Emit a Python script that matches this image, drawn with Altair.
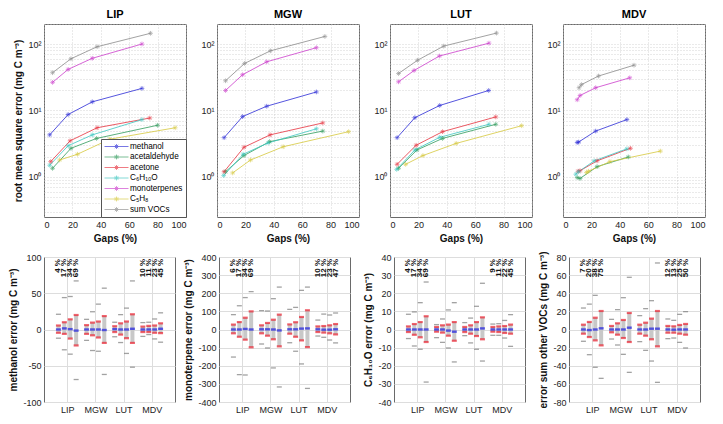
import altair as alt
import pandas as pd

sites = ["LIP", "MGW", "LUT", "MDV"]
compounds = ["methanol", "acetaldehyde", "acetone", "C₆H₁₀O", "monoterpenes", "C₅H₈", "sum VOCs"]
colors = ["#2a2ad6", "#2f9a5a", "#e6303c", "#3cc6c0", "#cc3ccc", "#d6c83c", "#8a8a8a"]

# ---- top row: RMSE vs gaps, one list per site (LIP, MGW, LUT, MDV)
methanol_gaps = [[4, 17, 34, 69], [5, 18, 35, 70], [5, 17.5, 35, 69.5], [10, 11, 23, 45]]
methanol_rmse = [[4.3, 8.7, 13.5, 21.5], [3.9, 8.1, 11.6, 19], [3.9, 7.8, 11.9, 20], [3.3, 3.35, 4.9, 7.3]]
acetaldehyde_gaps = [[6, 19, 37, 80], [6, 19, 37, 74.5], [6, 19, 37, 74.5], [10, 12, 24, 46]]
acetaldehyde_rmse = [[1.35, 2.7, 3.8, 6.0], [1.2, 2.1, 3.4, 4.9], [1.35, 2.55, 3.8, 6.2], [0.98, 0.95, 1.43, 2.0]]
acetone_gaps = [[4.7, 18.4, 37.4, 74.5], [5, 19, 37.4, 74.5], [5, 18.4, 37, 74.5], [10.6, 12, 24, 47.5]]
acetone_rmse = [[1.7, 3.5, 5.5, 7.7], [1.2, 2.8, 4.3, 6.5], [1.55, 3.0, 4.8, 8.0], [1.22, 1.24, 1.75, 2.7]]
c6h10o_gaps = [[4, 17, 34, 69], [4.7, 18.4, 36, 70], [4.7, 17.5, 35, 69.7], [9, 11, 22, 45]]
c6h10o_rmse = [[1.5, 2.95, 4.3, 7.3], [1.05, 2.2, 3.25, 5.3], [1.3, 2.55, 3.95, 6.2], [1.1, 1.2, 1.75, 2.65]]
monoterpenes_gaps = [[6, 17, 34, 69], [6, 18, 35, 70], [6, 17, 34.8, 69.7], [10, 12, 23, 47]]
monoterpenes_rmse = [[26.5, 41.5, 61, 100], [20, 34.5, 54, 88], [27, 40, 66, 103], [14.5, 16.8, 22, 31]]
c5h8_gaps = [[11, 23.6, 46.3, 92.4], [11, 23.6, 46.6, 92.7], [11, 23.2, 46.6, 92.7], [16.5, 18, 33, 68.6]]
c5h8_rmse = [[1.8, 2.2, 3.7, 5.5], [1.15, 1.8, 2.85, 4.8], [1.55, 2.1, 3.2, 5.9], [1.17, 1.22, 1.7, 2.45]]
sumvocs_gaps = [[6, 19, 37.4, 75], [6, 19.4, 37.6, 76], [6, 19.4, 37.8, 75], [11.3, 13, 25, 50]]
sumvocs_rmse = [[37, 60, 91, 145], [28, 51, 79, 130], [36, 57, 93, 146], [22, 24.5, 33, 48]]

all_gaps = [methanol_gaps, acetaldehyde_gaps, acetone_gaps, c6h10o_gaps, monoterpenes_gaps, c5h8_gaps, sumvocs_gaps]
all_rmse = [methanol_rmse, acetaldehyde_rmse, acetone_rmse, c6h10o_rmse, monoterpenes_rmse, c5h8_rmse, sumvocs_rmse]

# ---- bottom row: error distributions, 16 values each (site-major: LIP g1..g4, MGW, LUT, MDV)
methanol_min = [-12, -28, -34, -69, -15, -29, -30, -62, -10, -18, -33, -52, -9.5, -7, -13, -17.5]
methanol_lo = [-4.5, -6, -12.5, -22, -6, -8, -11, -18.5, -3.5, -7, -12, -18.5, -3.5, -3.5, -4.5, -5]
methanol_med = [0, 1.5, 0.5, -1.5, 0, 0, 0, -0.7, 0.5, 0, 0, 1, 0, 0, 0, 1]
methanol_hi = [5.5, 10, 14, 20, 6, 9.5, 11, 18.5, 4.5, 8.5, 11, 21, 4, 5, 5.5, 8.5]
methanol_max = [21, 44, 45.5, 67, 14, 24.5, 35, 57, 10, 20.5, 29.5, 67, 9.5, 10, 14.5, 23]

mono_min = [-152, -249, -251, None, -80, -102, -212, -317, -73, -120, -190, -325, -36, -43, -58, -74]
mono_lo = [-21, -40, -56, -98, -21, -34, -54, -93, -23, -40, -60, -97, -14, -17, -21, -27]
mono_med = [0, 0, 3, 0, 1, 1, 0, -5, 1, 1, 5, 6, 1, -1, -1, 1]
mono_hi = [27, 41, 65, 100, 23, 36, 54, 82, 28, 40, 69, 106, 17, 19, 23, 30]
mono_max = [82, 131, 176, 209, 104, 102, 170, 234, 111, 122, 216, 234, 52, 85, 80, 91]

c6_min = [-5, -9.1, -10.9, -29, -4.5, -7.1, -10.2, -17.9, -3.4, -7.4, -10.9, -17.4, -3.2, -3.2, -4.7, -9.3]
c6_lo = [-1.4, -2.9, -4.3, -6.9, -1.2, -1.7, -3.4, -6.2, -1.4, -2.3, -3.6, -5.4, -1.2, -1.4, -1.9, -2.3]
c6_med = [0, 0, 0, 0, 0, 0, -0.6, -1.2, 0, 0, 0, 0.6, 0, 0, 0, 0]
c6_hi = [1.7, 3, 4.1, 7.3, 1.4, 2.3, 2.7, 4.1, 1.4, 2.3, 4.1, 6.7, 1.4, 1.7, 1.9, 2.7]
c6_max = [8.4, 9.7, 14.8, 26.2, 2.7, 5.8, 10.8, 14.8, 3.8, 6.3, 12.8, 25.5, 3, 3.2, 5, 8.2]

sum_min = [-13, -27.8, -41.7, -53.9, -10.5, -17.1, -27.4, -47.3, -13.4, -23, -34.8, -58.3, -10.1, -9.4, -14.2, -20.4]
sum_lo = [-4.6, -8.3, -12, -17.5, -3.1, -5.7, -9.4, -13.8, -4.6, -6.8, -10.8, -18.6, -3.5, -3.5, -4.6, -5.7]
sum_med = [0, -0.6, 0, 1.3, 0, 0, 0, 2, 0, 0, 0.9, 0.9, 0, -0.2, 0, 0]
sum_hi = [5.3, 8.3, 13, 20.4, 3.9, 6.8, 10.5, 18.2, 5.3, 7.5, 12, 20.4, 3.9, 3.5, 5, 6.1]
sum_max = [23.7, 28, 37.7, None, 11.2, 21.9, 35.1, 57.6, 15.3, 23, 31.8, 73.4, 11.6, 10.1, 16.7, 19.7]

methanol_labels = ["4 %", "17 %", "34 %", "69 %", "", "", "", "", "", "", "", "", "10 %", "11 %", "23 %", "45 %"]
mono_labels = ["6 %", "17 %", "34 %", "69 %", "", "", "", "", "", "", "", "", "10 %", "12 %", "23 %", "47 %"]
c6_labels = ["4 %", "17 %", "34 %", "69 %", "", "", "", "", "", "", "", "", "9 %", "11 %", "22 %", "45 %"]
sum_labels = ["7 %", "20 %", "38 %", "75 %", "", "", "", "", "", "", "", "", "12 %", "13 %", "25 %", "50 %"]

bottom_vars = [
    ("methanol error (mg C m⁻³)", 100, 50, methanol_min, methanol_lo, methanol_med, methanol_hi, methanol_max, methanol_labels),
    ("monoterpene error (mg C m⁻³)", 400, 100, mono_min, mono_lo, mono_med, mono_hi, mono_max, mono_labels),
    ("C₆H₁₀O error (mg C m⁻³)", 40, 10, c6_min, c6_lo, c6_med, c6_hi, c6_max, c6_labels),
    ("error sum other VOCs (mg C m⁻³)", 80, 20, sum_min, sum_lo, sum_med, sum_hi, sum_max, sum_labels),
]

FONT = "Liberation Sans"
STAR = "M-1,0H1M0,-1V1M-0.7,-0.7L0.7,0.7M-0.7,0.7L0.7,-0.7"
LEG_SYM = "M-1,0H5M2,-0.6V0.6M1.4,0H2.6M1.58,-0.42L2.42,0.42M1.58,0.42L2.42,-0.42"

rows = []
for comp, gl, vl in zip(compounds, all_gaps, all_rmse):
    for si, site in enumerate(sites):
        for k, (g, v) in enumerate(zip(gl[si], vl[si])):
            rows.append({"site": site, "compound": comp, "gap": g, "rmse": v, "k": k})
top_df = pd.DataFrame(rows)

ygrid = [0.3, 0.4, 0.5, 0.6, 0.7, 0.8, 0.9, 1, 2, 3, 4, 5, 6, 7, 8, 9, 10,
         20, 30, 40, 50, 60, 70, 80, 90, 100, 200]
ylab = "datum.value == 1 ? '10⁰' : datum.value == 10 ? '10¹' : datum.value == 100 ? '10²' : ''"

GRID = dict(grid=True, gridColor="#c4c4c4", gridDash=[1, 2], gridWidth=0.7)


def top_panel(site, i):
    d = top_df[top_df.site == site]
    base = alt.Chart(d)
    if i == 0:
        legend = alt.Legend(title=None, orient="bottom-right", offset=0, padding=3,
                            symbolType=LEG_SYM, symbolSize=64, symbolStrokeWidth=0.9,
                            symbolFillColor="transparent",
                            labelFont=FONT, labelFontSize=8.2, labelOffset=17,
                            rowPadding=0.5, strokeColor="#555", fillColor="white")
    else:
        legend = None
    color = alt.Color("compound:N", sort=compounds,
                      scale=alt.Scale(domain=compounds, range=colors), legend=legend)
    x = alt.X("gap:Q", scale=alt.Scale(domain=[0, 100], nice=False),
              axis=alt.Axis(values=[0, 20, 40, 60, 80, 100], title="Gaps (%)", **GRID))
    y = alt.Y("rmse:Q", scale=alt.Scale(type="log", domain=[0.25, 200], nice=False),
              axis=alt.Axis(values=ygrid, labelExpr=ylab, labelOverlap=False,
                            title="root mean square error (mg C m⁻³)" if i == 0 else None,
                            **GRID))
    line = base.mark_line(strokeWidth=0.8).encode(x=x, y=y, color=color, order="k:Q")
    pts = base.mark_point(shape=STAR, filled=False, size=22, strokeWidth=0.8).encode(
        x=x, y=y, color=color)
    return alt.layer(line, pts).properties(
        width=142, height=193,
        title=alt.TitleParams(site, font=FONT, fontSize=11, fontWeight="bold", offset=0))


def bottom_panel(spec):
    title, lim, step, mn, lo, med, hi, mx, labels = spec
    recs = []
    for j in range(16):
        recs.append({"site_i": j // 4 + 1, "g": j % 4, "mn": mn[j], "lo": lo[j],
                     "med": med[j], "hi": hi[j], "mx": mx[j], "label": labels[j]})
    df = pd.DataFrame(recs)
    base = alt.Chart(df).transform_calculate(pos="datum.site_i + (datum.g - 1.5) * 0.21")
    x = alt.X("pos:Q", scale=alt.Scale(domain=[0.35, 4.65], nice=False),
              axis=alt.Axis(values=[1, 2, 3, 4], title=None,
                            labelExpr="['LIP','MGW','LUT','MDV'][datum.value - 1]"))
    vals = list(range(-lim, lim + 1, step))
    yax = alt.Axis(values=vals, title=title, labelOverlap=False,
                   labelExpr="datum.value < 0 ? '-' + abs(datum.value) : '' + datum.value")
    ysc = alt.Scale(domain=[-lim, lim], nice=False)

    def Y(field):
        return alt.Y(field, scale=ysc, axis=yax)

    box = base.mark_bar(size=4, color="#c8c8c8").encode(x=x, y=Y("lo:Q"), y2="hi:Q")
    tick = dict(orient="horizontal")
    red_lo = base.mark_tick(size=5, thickness=2.2, color="#e8202e", **tick).encode(x=x, y=Y("lo:Q"))
    red_hi = base.mark_tick(size=5, thickness=2.2, color="#e8202e", **tick).encode(x=x, y=Y("hi:Q"))
    blue = base.mark_tick(size=5, thickness=2.4, color="#1c1ce0", **tick).encode(x=x, y=Y("med:Q"))
    g_lo = base.transform_filter("isValid(datum.mn)").mark_tick(
        size=5, thickness=1.3, color="#7a7a7a", **tick).encode(x=x, y=Y("mn:Q"))
    g_hi = base.transform_filter("isValid(datum.mx)").mark_tick(
        size=5, thickness=1.3, color="#7a7a7a", **tick).encode(x=x, y=Y("mx:Q"))
    txt = base.transform_filter("datum.label != ''").mark_text(
        angle=270, align="right", baseline="middle", font=FONT, fontSize=8,
        fontWeight="bold", color="#111").encode(x=x, y=alt.value(2), text="label:N")
    return alt.layer(box, red_lo, red_hi, g_lo, g_hi, blue, txt).properties(width=131, height=145)


top = alt.hconcat(*[top_panel(s, i) for i, s in enumerate(sites)], spacing=31, bounds="flush"
                  ).resolve_scale(color="independent").resolve_legend(color="independent")
bottom = alt.hconcat(*[bottom_panel(v) for v in bottom_vars], spacing=44, bounds="flush")

chart = alt.vconcat(top, bottom, spacing=6).properties(
    padding={"left": 0, "top": 0, "right": 5, "bottom": 5}
).configure(
    font=FONT
).configure_axis(
    labelFont=FONT, labelFontSize=9, labelColor="#222", titleFont=FONT, titleFontSize=10,
    titleFontWeight="bold", titleColor="#111", domain=False, ticks=False, labelPadding=3,
    titlePadding=4
).configure_view(stroke="#6a6a6a", strokeWidth=1)

chart.save("out.html", embed_options={"renderer": "svg", "actions": False})
